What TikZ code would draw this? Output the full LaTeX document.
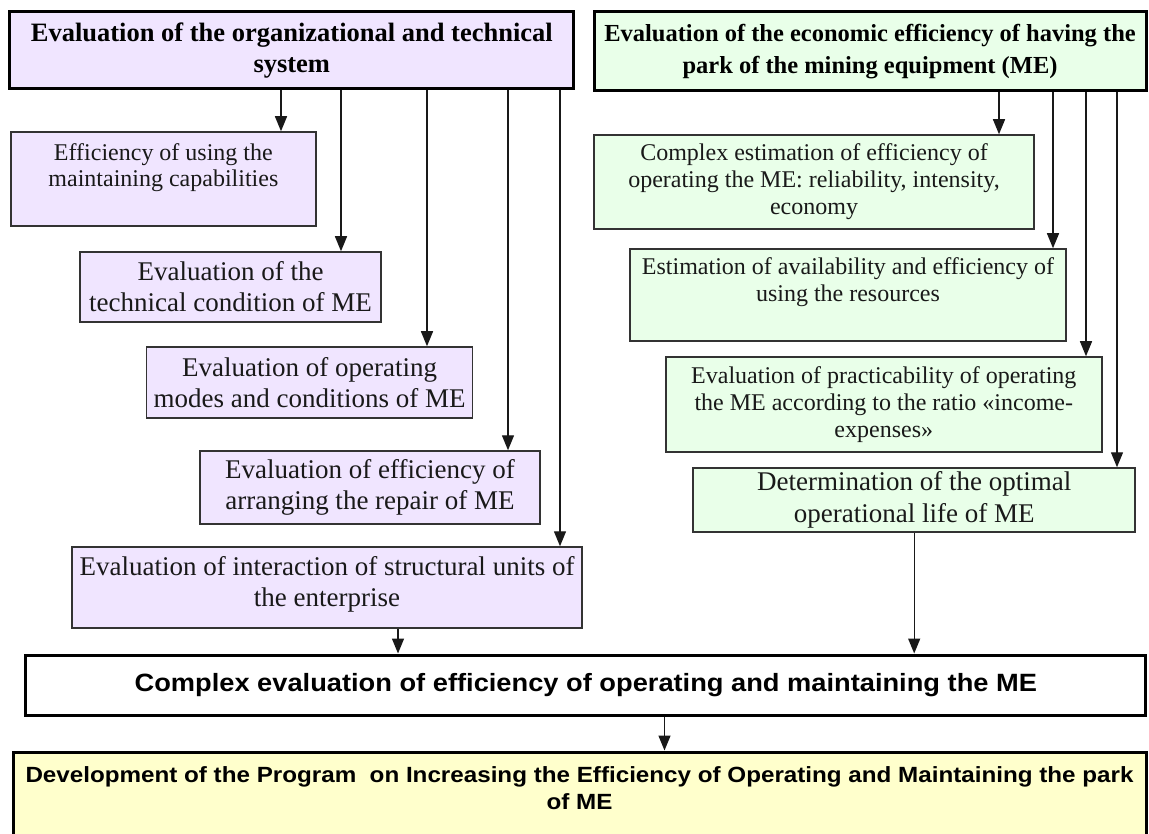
\documentclass[tikz,border=0pt]{standalone}
\usepackage{fontspec}
\setmainfont{Liberation Serif}
\newfontfamily\sanswide{Liberation Sans}[FakeStretch=1.09]
\newfontfamily\sanswider{Liberation Sans}[FakeStretch=1.1]
\usetikzlibrary{arrows.meta}

\definecolor{lav}{RGB}{240,229,255}
\definecolor{mint}{RGB}{233,255,233}
\definecolor{cream}{RGB}{255,255,204}

% top-aligned text block of a fixed size
\newcommand\topblock[4]{\parbox[c][#2][t]{#1}{\centering\vspace*{#3}#4}}

\tikzset{
  box/.style={draw=black!80, line width=1.5pt, align=center, inner sep=0pt,
    text=black!90},
  lbox/.style={box, fill=lav, font=\fontsize{27}{31}\selectfont},
  rbox/.style={box, fill=mint, font=\fontsize{24}{27}\selectfont},
  headbox/.style={draw=black, line width=3pt, align=center, inner sep=0pt},
  mainbox/.style={draw=black, line width=3pt, align=center, inner sep=0pt},
  arr/.style={draw=black!90, line width=1.4pt, -{Triangle[length=15pt,width=12pt]}},
}

\begin{document}
\begin{tikzpicture}[x=1pt, y=-1pt]
\useasboundingbox (0,0) rectangle (1149,834);
\clip (0,0) rectangle (1149,834);

% column headers
\node[headbox, fill=lav, minimum width=564pt, minimum height=77pt,
  font=\fontsize{26.5}{31}\selectfont\bfseries] (TL) at (291.8,50.5)
  {Evaluation of the organizational and technical\\system};
\node[headbox, fill=mint, minimum width=552pt, minimum height=79pt,
  font=\fontsize{24.5}{32}\selectfont\bfseries] (TR) at (870,51.5)
  {Evaluation of the economic efficiency of having the\\park of the mining equipment (ME)};

% organizational and technical branch
\node[lbox, minimum width=305pt, minimum height=94pt] (L1) at (163.4,179)
  {\topblock{305pt}{94pt}{12pt}{\fontsize{24}{26}\selectfont Efficiency of using the\\maintaining capabilities}};
\node[lbox, minimum width=301pt, minimum height=70pt] (L2) at (230.5,287)
  {Evaluation of the\\technical condition of ME};
\node[lbox, minimum width=326pt, minimum height=71pt] (L3) at (309.6,382.5)
  {Evaluation of operating\\modes and conditions of ME};
\node[lbox, minimum width=340pt, minimum height=73pt] (L4) at (370,487.5)
  {Evaluation of efficiency of\\arranging the repair of ME};
\node[lbox, minimum width=510pt, minimum height=81pt] (L5) at (327,587.5)
  {\topblock{510pt}{81pt}{9pt}{Evaluation of interaction of structural units of\\the enterprise}};

% economic branch
\node[rbox, minimum width=440pt, minimum height=94pt] (R1) at (814,182)
  {Complex estimation of efficiency of\\operating the ME: reliability, intensity,\\economy};
\node[rbox, minimum width=436pt, minimum height=92pt] (R2) at (848,295)
  {\topblock{436pt}{92pt}{9pt}{Estimation of availability and efficiency of\\using the resources}};
\node[rbox, minimum width=436pt, minimum height=95pt] (R3) at (883.8,404.5)
  {Evaluation of practicability of operating\\the ME according to the ratio «income-\\expenses»};
\node[rbox, minimum width=442pt, minimum height=64pt, font=\fontsize{27}{32}\selectfont] (R4) at (914.2,500)
  {Determination of the optimal\\operational life of ME};

% summary and programme
\node[mainbox, fill=white, minimum width=1120pt, minimum height=60pt,
  font=\sanswide\fontsize{25}{30}\selectfont\bfseries] (CX) at (585.8,685)
  {Complex evaluation of efficiency of operating and maintaining the ME};
\node[mainbox, fill=cream, minimum width=1133pt, minimum height=130pt] (FN) at (579.5,817)
  {\topblock{1133pt}{130pt}{15pt}{\sanswider\fontsize{22}{27}\selectfont\bfseries
   Development of the Program\ \ on Increasing the Efficiency of Operating and Maintaining the park\\of ME}};

% connector columns
\coordinate (a1) at (281,0);
\coordinate (a2) at (341,0);
\coordinate (a3) at (427,0);
\coordinate (a4) at (508,0);
\coordinate (a5) at (560,0);
\coordinate (b1) at (999,0);
\coordinate (b2) at (1053,0);
\coordinate (b3) at (1086,0);
\coordinate (b4) at (1117,0);
\coordinate (c1) at (398,0);
\coordinate (d1) at (664.5,0);

\draw[arr] (TL.south -| a1) -- (L1.north -| a1);
\draw[arr] (TL.south -| a2) -- (L2.north -| a2);
\draw[arr] (TL.south -| a3) -- (L3.north -| a3);
\draw[arr] (TL.south -| a4) -- (L4.north -| a4);
\draw[arr] (TL.south -| a5) -- (L5.north -| a5);

\draw[arr] (TR.south -| b1) -- (R1.north -| b1);
\draw[arr] (TR.south -| b2) -- (R2.north -| b2);
\draw[arr] (TR.south -| b3) -- (R3.north -| b3);
\draw[arr] (TR.south -| b4) -- (R4.north -| b4);

\draw[arr] (L5.south -| c1) -- (CX.north -| c1);
\draw[arr] (R4.south) -- (CX.north -| R4.south);
\draw[arr] (CX.south -| d1) -- (FN.north -| d1);
\end{tikzpicture}
\end{document}
